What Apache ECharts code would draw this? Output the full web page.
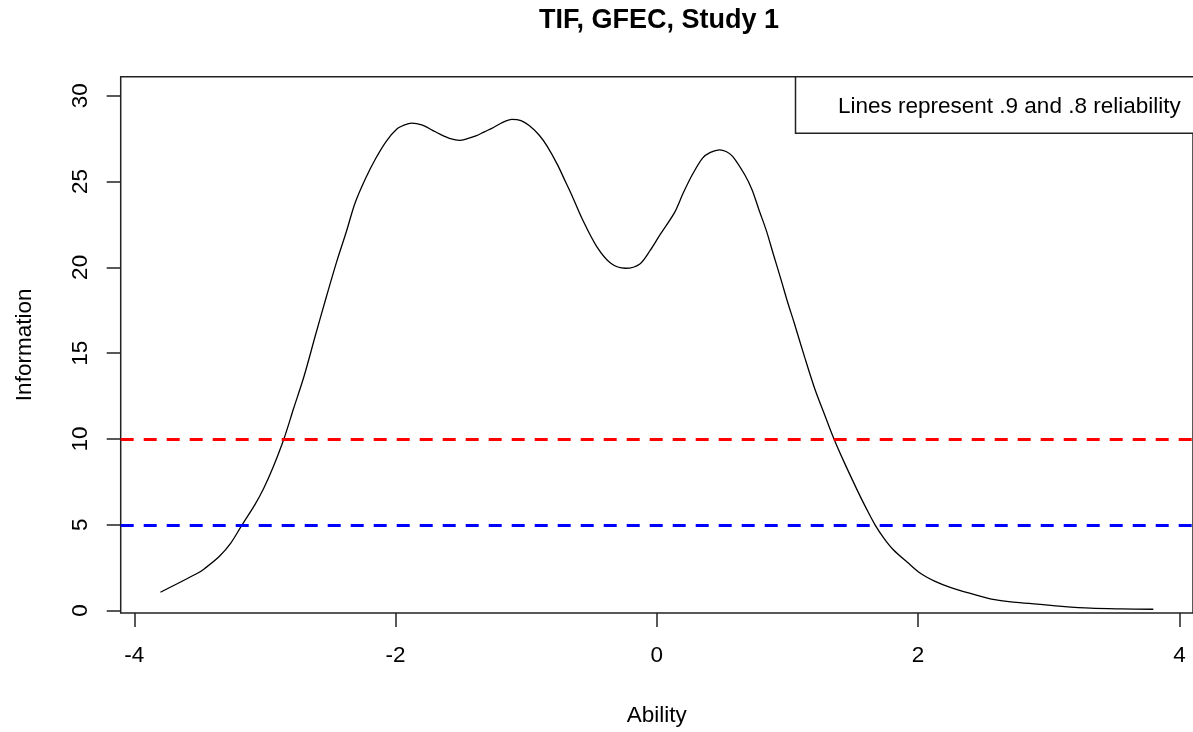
<!DOCTYPE html>
<html>
<head>
<meta charset="utf-8">
<script src="https://cdn.jsdelivr.net/npm/echarts@6/dist/echarts.min.js"></script>
<style>
html,body{margin:0;padding:0;background:#fff;}
#chart{width:1193px;height:732px;}
</style>
</head>
<body>
<div id="chart"></div>
<script>
// ---- data ----
const chartTitle = 'TIF, GFEC, Study 1';
const xAxisName = 'Ability';
const yAxisName = 'Information';
const legendText = 'Lines represent .9 and .8 reliability';

const ability = [
  -3.80, -3.52, -3.46, -3.35, -3.26, -3.175, -3.08, -3.01, -2.94, -2.855,
  -2.78, -2.70, -2.615, -2.533, -2.45, -2.38, -2.31, -2.23, -2.15, -2.07,
  -1.99, -1.93, -1.877, -1.80, -1.72, -1.66, -1.58, -1.51, -1.45, -1.385,
  -1.32, -1.25, -1.18, -1.11, -1.04, -0.975, -0.90, -0.84, -0.76, -0.70,
  -0.65, -0.57, -0.46, -0.35, -0.24, -0.13, -0.05, 0.02, 0.135, 0.20,
  0.27, 0.35, 0.41, 0.48, 0.53, 0.58, 0.674, 0.73, 0.78, 0.84,
  0.89, 0.95, 1.00, 1.05, 1.13, 1.21, 1.29, 1.356, 1.43, 1.54,
  1.60, 1.67, 1.74, 1.81, 1.92, 2.02, 2.13, 2.24, 2.40, 2.56,
  2.73, 2.91, 3.10, 3.32, 3.55, 3.80
];
const information = [
  1.07, 2.16, 2.46, 3.15, 3.95, 5.0, 6.13, 7.12, 8.31, 10.0,
  11.79, 13.67, 16.0, 18.2, 20.35, 22.0, 23.75, 25.18, 26.37, 27.36,
  28.06, 28.3, 28.4, 28.3, 28.0, 27.76, 27.5, 27.4, 27.5, 27.66,
  27.9, 28.15, 28.45, 28.62, 28.55, 28.25, 27.7, 27.06, 25.97, 25.0,
  24.19, 22.8, 21.21, 20.22, 19.95, 20.2, 21.0, 21.85, 23.19, 24.3,
  25.38, 26.37, 26.7, 26.85, 26.75, 26.47, 25.38, 24.5, 23.39, 22.1,
  20.81, 19.3, 18.0, 16.8, 14.8, 12.9, 11.3, 10.0, 8.71, 6.92,
  6.0, 5.0, 4.2, 3.55, 2.8, 2.16, 1.7, 1.37, 1.0, 0.67,
  0.5, 0.38, 0.25, 0.14, 0.1, 0.08
];
const reliabilityLines = [10, 5];          // .9 and .8 reliability
const reliabilityColors = ['#ff0000', '#0000ff'];
const xTicks = [-4, -2, 0, 2, 4];
const yTicks = [0, 5, 10, 15, 20, 25, 30];

// ---- chart ----
const chart = echarts.init(document.getElementById('chart'), null, {renderer: 'canvas'});
const FONT = 'Liberation Sans, Arial, Helvetica, sans-serif';
const AX = '#222';

const curveData = ability.map((x, i) => [x, information[i]]);

const option = {
  animation: false,
  backgroundColor: '#ffffff',
  grid: {
    left: 120.7,
    top: 76.7,
    width: 1073.6,
    height: 539,
    show: true,
    borderColor: AX,
    borderWidth: 1.5,
    backgroundColor: 'transparent',
    containLabel: false
  },
  xAxis: {
    type: 'value',
    min: -4.104,
    max: 4.104,
    name: xAxisName,
    nameLocation: 'middle',
    nameGap: 91,
    nameTextStyle: {fontFamily: FONT, fontSize: 22.5, color: '#000'},
    axisLine: {show: false, onZero: false},
    splitLine: {show: false},
    axisTick: {show: true, customValues: xTicks, length: 14, inside: false,
               lineStyle: {color: AX, width: 1.5}},
    axisLabel: {show: true, customValues: xTicks, margin: 31,
                fontFamily: FONT, fontSize: 22.5, color: '#000'}
  },
  yAxis: {
    type: 'value',
    min: -0.139,
    max: 31.11,
    name: yAxisName,
    nameLocation: 'middle',
    nameGap: 84.5,
    nameRotate: 90,
    nameTextStyle: {fontFamily: FONT, fontSize: 22.5, color: '#000'},
    axisLine: {show: false, onZero: false},
    splitLine: {show: false},
    axisTick: {show: true, customValues: yTicks, length: 14, inside: false,
               lineStyle: {color: AX, width: 1.5}},
    axisLabel: {show: true, customValues: yTicks, rotate: 90, margin: 28,
                fontFamily: FONT, fontSize: 22.5, color: '#000'}
  },
  series: [
    {
      type: 'line',
      data: curveData,
      showSymbol: false,
      symbol: 'none',
      smooth: 0.3,
      lineStyle: {color: '#000', width: 1.3},
      silent: true,
      z: 3
    },
    {
      type: 'line',
      data: [],
      silent: true,
      z: 2,
      markLine: {
        silent: true,
        symbol: ['none', 'none'],
        label: {show: false},
        animation: false,
        data: reliabilityLines.map((v, i) => ({
          yAxis: v,
          lineStyle: {color: reliabilityColors[i], width: 3, type: [13, 10]}
        }))
      }
    }
  ],
  graphic: [
    {
      type: 'text',
      x: 659, y: 21,
      style: {
        text: chartTitle,
        fontFamily: FONT, fontSize: 27, fontWeight: 'bold',
        fill: '#000', textAlign: 'center', textVerticalAlign: 'middle'
      }
    },
    {
      type: 'rect',
      shape: {x: 795.5, y: 76.7, width: 500, height: 56.6},
      style: {fill: '#fff', stroke: AX, lineWidth: 1.5},
      z: 10
    },
    {
      type: 'text',
      x: 838, y: 106.4,
      z: 11,
      style: {
        text: legendText,
        fontFamily: FONT, fontSize: 22.5,
        fill: '#000', textAlign: 'left', textVerticalAlign: 'middle'
      }
    }
  ]
};
chart.setOption(option);
</script>
</body>
</html>
